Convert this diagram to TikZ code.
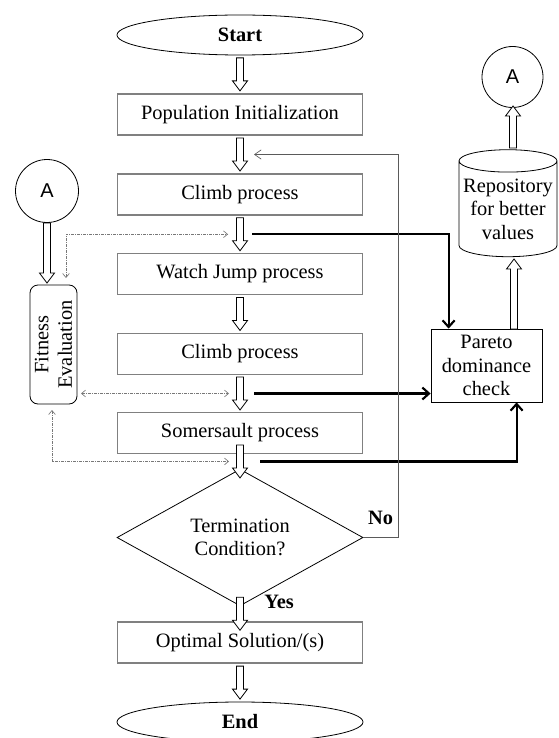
\documentclass[tikz,border=0pt]{standalone}
\usepackage{fontspec}
\setmainfont{Liberation Serif}
\newfontfamily\arialfont{Liberation Sans}
\usetikzlibrary{shapes.geometric,arrows.meta,calc}

\definecolor{boxgray}{RGB}{128,128,128}
\definecolor{dotgray}{RGB}{120,120,120}
\definecolor{fbgray}{RGB}{90,90,90}

\tikzset{
  every node/.style={font=\fontsize{15.3}{17.6}\selectfont},
  terminal/.style={ellipse, draw, line width=0.6pt, inner sep=0pt, minimum width=184.5pt, minimum height=30pt, font=\fontsize{15.3}{17.6}\selectfont\bfseries},
  process/.style={rectangle, draw=boxgray, line width=0.9pt, inner sep=0pt, minimum width=183.75pt, minimum height=30.75pt},
  decision/.style={diamond, draw, line width=0.6pt, inner sep=0pt, minimum width=184.5pt, minimum height=66.75pt, align=center},
  connector/.style={circle, draw, line width=0.6pt, inner sep=0pt, minimum size=#1, font=\arialfont\fontsize{15}{17}\selectfont},
  evalbox/.style={rectangle, rounded corners=6pt, draw, line width=0.6pt, inner sep=0pt, rotate=90, minimum width=89.25pt, minimum height=35.25pt, align=center},
  paretobox/.style={rectangle, draw, line width=0.6pt, inner sep=0pt, minimum width=83.25pt, minimum height=54.75pt, align=center},
  repo/.style={cylinder, draw, line width=0.6pt, shape border rotate=90, aspect=0.25, inner sep=0pt, minimum width=73.5pt, minimum height=80.25pt, align=center},
  blockline/.style={draw, line width=0.6pt, fill=white, line join=miter},
  % inside a pic the y axis points up
  pics/hdown/.style={code={
    \draw[blockline] (-3.5,#1/2) -- (-3.5,-#1/2+10) -- (-7.5,-#1/2+10) -- (0,-#1/2)
      -- (7.5,-#1/2+10) -- (3.5,-#1/2+10) -- (3.5,#1/2) -- cycle;}},
  pics/hup/.style={code={
    \draw[blockline] (-3.5,-#1/2) -- (-3.5,#1/2-10) -- (-7.5,#1/2-10) -- (0,#1/2)
      -- (7.5,#1/2-10) -- (3.5,#1/2-10) -- (3.5,-#1/2) -- cycle;}},
  dotline/.style={draw=dotgray, line width=0.5pt, dash pattern=on 2pt off 1pt on 0.5pt off 1pt, {Straight Barb[length=3pt,width=5pt]}-{Straight Barb[length=3pt,width=5pt]}},
  thickline/.style={line width=1.6pt, -{Straight Barb[length=5pt,width=9pt]}},
  fbline/.style={draw=fbgray, line width=0.5pt, -{Straight Barb[length=5pt,width=7pt]}},
  lbl/.style={font=\fontsize{15.3}{17.6}\selectfont\bfseries}
}

\begin{document}
\begin{tikzpicture}[x=0.75pt,y=0.75pt,yscale=-1,xscale=1]
\useasboundingbox (0,0) rectangle (558,738);

% Main column
\node[terminal] (start) at (240,35) {Start};
\node[process] (pop) at (240,114.5) {Population Initialization};
\node[process] (climbA) at (240,194.5) {Climb process};
\node[process] (watch) at (240,274) {Watch Jump process};
\node[process] (climbB) at (240,354) {Climb process};
\node[process] (somer) at (240,433) {Somersault process};
\node[decision] (cond) at (240,537.5) {Termination\\Condition?};
\node[process] (optimal) at (240,642.5) {Optimal Solution/(s)};
\node[terminal] (end) at (240,722) {End};

% Side nodes
\node[connector=47.25pt] (conL) at (47,191) {A};
\node[evalbox] (fitness) at (53.5,344.5) {Fitness\\Evaluation};
\node[paretobox] (pareto) at (486.5,365.5) {Pareto\\dominance\\check};
\node[repo] (repo) at (508,209) {Repository\\for better\\values};
\node[connector=45.75pt] (conR) at (512.5,77) {A};

% Hollow arrows
\coordinate (a1) at ($(start.south)!.5!(pop.north)$);
\coordinate (a2) at ($(pop.south)!.5!(climbA.north)$);
\coordinate (a3) at ($(climbA.south)!.5!(watch.north)$);
\coordinate (a4) at ($(watch.south)!.5!(climbB.north)$);
\coordinate (a5) at ($(climbB.south)!.5!(somer.north)$);
\coordinate (a6) at ($(somer.south)!.5!(cond.north)$);
\coordinate (a7) at ($(cond.south)!.5!(optimal.north)$);
\coordinate (a8) at ($(optimal.south)!.5!(end.north)$);
\coordinate (a9) at (47,253);
\coordinate (a10) at (514,294);
\coordinate (a11) at (513,127);
\foreach \p in {a1,a2,a3,a4,a5,a6,a7,a8}
  \pic at (\p) {hdown=33};
\pic at (a9) {hdown=60};
\pic at (a10) {hup=70};
\pic at (a11) {hup=42};

% Fitness links
\coordinate (fitR) at ($(fitness.center)+(27.5,0)$);
\draw[dotline] ($(fitness.center)+(12.5,-66.5)$) |- ($(a3)+(-12,0)$);
\draw[dotline] (fitR |- a5) -- ($(a5)+(-11,0)$);
\draw[dotline] ($(fitness.center)+(-1.5,65.5)$) |- ($(a6)+(-11,0)$);

% Pareto links
\draw[thickline] ($(a3)+(12,0)$) -| ($(pareto.north west)+(18,0)$);
\draw[thickline] ($(a5)+(14,0)$) -- (pareto.west |- a5);
\draw[thickline] ($(a6)+(20,0)$) -| ($(pareto.south west)+(86,0)$);

% Loop back
\draw[fbline] (cond.east) -- ++(35,0) |- ($(a2)+(14,0)$);

% Labels
\node[lbl] (no) at (380.5,518) {No};
\node[lbl] (yes) at (279,602) {Yes};

\end{tikzpicture}
\end{document}
